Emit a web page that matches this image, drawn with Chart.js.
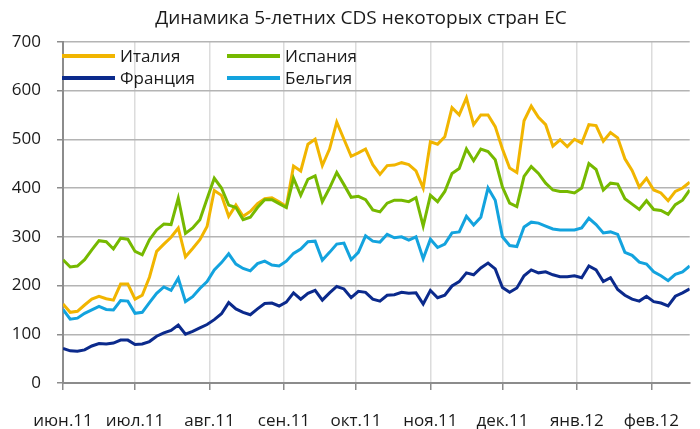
<!DOCTYPE html>
<html>
<head>
<meta charset="utf-8">
<script src="https://cdn.jsdelivr.net/npm/chart.js@4"></script>
<style>
  html, body { margin: 0; padding: 0; background: #fff; }
</style>
</head>
<body>
<canvas id="c" width="700" height="429"></canvas>
<script>
// sample dates (every ~3 days), values in basis points
const dates = [
  '2011-06-01','2011-06-04','2011-06-07','2011-06-10','2011-06-13','2011-06-16','2011-06-19','2011-06-22','2011-06-25','2011-06-28',
  '2011-07-01','2011-07-04','2011-07-07','2011-07-10','2011-07-13','2011-07-16','2011-07-19','2011-07-22','2011-07-25','2011-07-28',
  '2011-07-31','2011-08-03','2011-08-06','2011-08-09','2011-08-12','2011-08-15','2011-08-18','2011-08-21','2011-08-24','2011-08-27',
  '2011-08-30','2011-09-02','2011-09-05','2011-09-08','2011-09-11','2011-09-14','2011-09-17','2011-09-20','2011-09-23','2011-09-26',
  '2011-09-29','2011-10-02','2011-10-05','2011-10-08','2011-10-11','2011-10-14','2011-10-17','2011-10-20','2011-10-23','2011-10-26',
  '2011-10-29','2011-11-01','2011-11-04','2011-11-07','2011-11-10','2011-11-13','2011-11-16','2011-11-19','2011-11-22','2011-11-25',
  '2011-11-28','2011-12-01','2011-12-04','2011-12-07','2011-12-10','2011-12-13','2011-12-16','2011-12-19','2011-12-22','2011-12-25',
  '2011-12-28','2011-12-31','2012-01-03','2012-01-06','2012-01-09','2012-01-12','2012-01-15','2012-01-18','2012-01-21','2012-01-24',
  '2012-01-27','2012-01-30','2012-02-02','2012-02-05','2012-02-08','2012-02-11','2012-02-14','2012-02-17'
];

const italy = [
  162,145,147,160,172,178,173,170,203,203,
  172,180,217,270,285,299,318,259,276,294,
  321,395,385,342,365,342,352,368,378,380,
  372,362,445,435,490,500,446,480,535,500,
  465,472,480,448,428,446,447,452,448,435,
  400,495,490,505,565,550,585,530,550,550,
  526,480,441,432,538,568,545,530,486,499,
  485,500,492,530,528,496,514,503,460,436,
  402,420,396,390,374,393,400,412
];

const spain = [
  253,238,240,253,273,292,290,275,297,295,
  270,263,294,314,326,325,379,307,318,335,
  378,420,400,365,360,335,340,360,376,376,
  368,360,420,385,418,425,372,400,432,407,
  381,383,376,355,351,369,375,375,372,380,
  322,385,372,393,430,440,480,456,480,475,
  458,402,369,362,424,444,430,410,396,393,
  393,390,400,450,438,396,410,408,378,367,
  356,374,356,354,346,366,375,396
];

const france = [
  71,66,65,68,76,81,80,82,88,88,
  79,80,85,96,103,108,119,100,106,113,
  120,130,142,165,152,145,140,152,163,164,
  158,166,185,172,184,190,170,185,198,193,
  175,188,186,172,168,180,181,186,184,185,
  162,190,175,180,199,208,226,222,236,246,
  234,196,186,195,220,232,226,228,222,218,
  218,220,216,240,232,208,216,192,180,172,
  168,178,167,164,158,178,185,193
];

const belgium = [
  151,131,133,143,150,157,151,150,169,168,
  143,145,165,184,197,190,215,167,177,194,
  208,232,247,265,244,235,230,245,250,242,
  240,250,266,275,290,291,252,268,285,287,
  253,268,302,291,289,305,298,300,293,300,
  255,295,278,285,308,310,342,324,340,400,
  375,300,282,280,320,330,328,322,316,314,
  314,314,318,338,325,308,310,305,268,262,
  248,244,228,220,210,223,228,240
];

const monthStarts = ['2011-06-01','2011-07-01','2011-08-01','2011-09-01','2011-10-01',
                     '2011-11-01','2011-12-01','2012-01-01','2012-02-01'];
const monthLabels = ['июн.11','июл.11','авг.11','сен.11','окт.11','ноя.11','дек.11','янв.12','фев.12'];

const FONT = "'Open Sans', 'Noto Sans', sans-serif";
const TEXT = '#1a1a1a';

const day0 = Date.parse(dates[0]);
const toDay = (s) => (Date.parse(s) - day0) / 864e5;
const pts = (vals) => vals.map((v, i) => ({ x: toDay(dates[i]), y: v }));

function line(label, vals, color, order) {
  return {
    label: label,
    data: pts(vals),
    borderColor: color,
    backgroundColor: color,
    borderWidth: 3,
    pointRadius: 0,
    tension: 0,
    order: order,
  };
}

// legend drawn inside the plot, two columns
const legendLayout = [
  { idx: 0, x: 62, y: 56 },
  { idx: 1, x: 227, y: 56 },
  { idx: 2, x: 62, y: 78 },
  { idx: 3, x: 227, y: 78 },
];

const insideLegend = {
  id: 'insideLegend',
  afterLayout(chart) {
    // title in the original sits a bit right of the canvas centre
    if (chart.titleBlock) chart.titleBlock.left += 22;
  },
  afterDatasetsDraw(chart) {
    const ctx = chart.ctx;
    ctx.save();
    ctx.font = '17px ' + FONT;
    ctx.textBaseline = 'middle';
    ctx.textAlign = 'left';
    legendLayout.forEach((it) => {
      const ds = chart.data.datasets[it.idx];
      ctx.strokeStyle = ds.borderColor;
      ctx.lineWidth = 4;
      ctx.beginPath();
      ctx.moveTo(it.x, it.y);
      ctx.lineTo(it.x + 53, it.y);
      ctx.stroke();
      ctx.fillStyle = TEXT;
      ctx.fillText(ds.label, it.x + 58, it.y + 1);
    });
    ctx.restore();
  },
};

new Chart(document.getElementById('c'), {
  type: 'line',
  data: {
    datasets: [
      line('Италия', italy, '#f1b500', 1),
      line('Испания', spain, '#76b900', 0),
      line('Франция', france, '#0b2a8c', 2),
      line('Бельгия', belgium, '#13a3de', 3),
    ],
  },
  options: {
    responsive: false,
    animation: false,
    devicePixelRatio: 1,
    layout: { padding: 0 },
    plugins: {
      legend: { display: false },
      tooltip: { enabled: false },
      title: {
        display: true,
        text: 'Динамика 5-летних CDS некоторых стран ЕС',
        color: TEXT,
        font: { family: FONT, size: 19, weight: 'normal' },
        padding: { top: 7, bottom: 12 },
      },
    },
    scales: {
      x: {
        type: 'linear',
        min: 0,
        max: toDay(dates[dates.length - 1]),
        afterBuildTicks: (scale) => {
          scale.ticks = monthStarts.map((s) => ({ value: toDay(s) }));
        },
        afterFit: (scale) => { scale.height = 46; },
        ticks: {
          autoSkip: false,
          maxRotation: 0,
          padding: 21,
          color: TEXT,
          font: { family: FONT, size: 17 },
          callback: (v, i) => monthLabels[i],
        },
        grid: { color: '#dcdcdc', lineWidth: 1.5, tickColor: '#8c8c8c', tickLength: 7 },
        border: { color: '#8c8c8c', width: 2 },
      },
      y: {
        min: 0,
        max: 700,
        afterFit: (scale) => { scale.width = 63; },
        ticks: {
          stepSize: 100,
          padding: 16,
          color: TEXT,
          font: { family: FONT, size: 17 },
        },
        grid: { color: '#b4b4b4', lineWidth: 1.5, tickColor: '#8c8c8c', tickLength: 6 },
        border: { color: '#8c8c8c', width: 2 },
      },
    },
  },
  plugins: [insideLegend],
});
</script>
</body>
</html>
